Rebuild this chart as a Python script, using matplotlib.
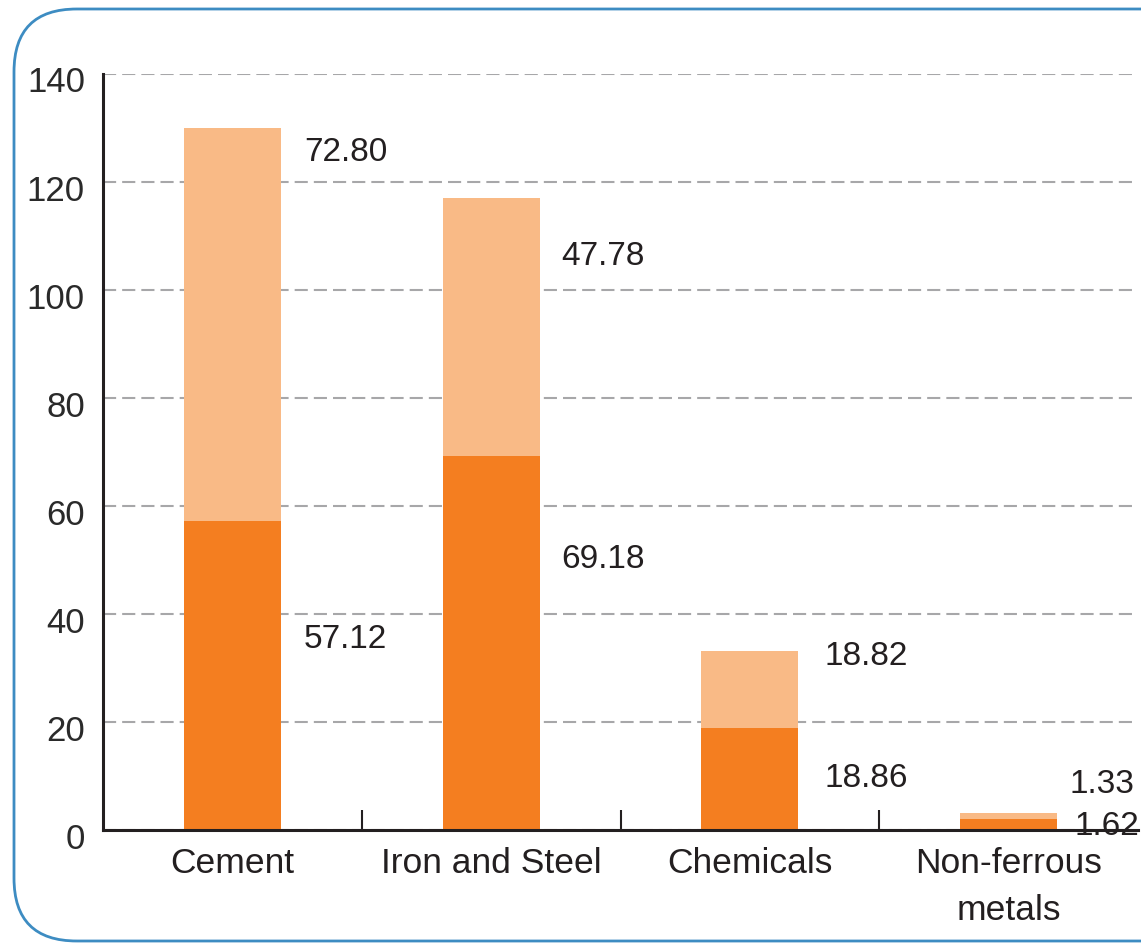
import matplotlib
matplotlib.use("Agg")
import matplotlib.pyplot as plt
from matplotlib.patches import FancyBboxPatch
from matplotlib.transforms import ScaledTranslation

# ---- data ----
categories = ["Cement", "Iron and Steel", "Chemicals", "Non-ferrous\nmetals"]
bottom_vals = [57.12, 69.18, 18.86, 2.0]     # dark orange segment (as drawn)
top_vals = [72.80, 47.78, 14.2, 1.2]         # light orange segment (as drawn)
bottom_labels = ["57.12", "69.18", "18.86", "1.62"]
top_labels = ["72.80", "47.78", "18.82", "1.33"]
yticks = [0, 20, 40, 60, 80, 100, 120, 140]

# ---- label layout (annotation positions) ----
bottom_label_y = [35.2, 50.0, 9.6, 0.6]
top_label_y = [125.4, 106.2, 32.2, 8.5]
bottom_label_dx = [0.277, 0.27, 0.29, 0.255]
top_label_dx = [0.277, 0.27, 0.29, 0.235]

DARK = "#F47E20"
LIGHT = "#F9BA86"
TXT = "#231F20"

plt.rcParams["font.family"] = ["Liberation Sans", "DejaVu Sans"]

fig = plt.figure(figsize=(11.41, 9.43), dpi=100)

# rounded border
border = FancyBboxPatch((14 / 1141, 2 / 943), 1.2, (943 - 11) / 943,
                        boxstyle="round,pad=0,rounding_size=0.055",
                        transform=fig.transFigure, fill=False,
                        edgecolor="#3d8cc2", linewidth=2.0, zorder=0,
                        mutation_aspect=1141 / 943)
fig.patches.append(border)

ax = fig.add_axes([103 / 1141, 113 / 943, (1138 - 103) / 1141, (869.5 - 113) / 943])

x = list(range(len(categories)))
width = 0.375
ax.bar(x, bottom_vals, width, color=DARK, zorder=3)
ax.bar(x, top_vals, width, bottom=bottom_vals, color=LIGHT, zorder=3)

ax.set_xlim(-0.5, len(categories) - 0.5)
ax.set_ylim(0, 140)

for i in range(len(categories)):
    ax.text(x[i] + bottom_label_dx[i], bottom_label_y[i], bottom_labels[i],
            fontsize=24, color=TXT, va="center", ha="left", zorder=5, clip_on=False)
    ax.text(x[i] + top_label_dx[i], top_label_y[i], top_labels[i],
            fontsize=24, color=TXT, va="center", ha="left", zorder=5, clip_on=False)

# grid
ax.set_yticks(yticks)
ax.yaxis.grid(True, color="#A7A7A9", linewidth=1.5, linestyle=(0, (6.3, 2.9)), zorder=1)
ax.set_axisbelow(True)

# spines
for s in ["top", "right"]:
    ax.spines[s].set_visible(False)
for s in ["left", "bottom"]:
    ax.spines[s].set_linewidth(2.2)
    ax.spines[s].set_color(TXT)
ax.spines["bottom"].set_zorder(4)

# y ticks
ax.tick_params(axis="y", length=0, pad=13, labelsize=25, labelcolor="#2a2a2a")
for lab in ax.get_yticklabels():
    lab.set_transform(lab.get_transform() + ScaledTranslation(0, -6 / 100, fig.dpi_scale_trans))

# x ticks
ax.set_xticks(x)
ax.set_xticklabels(categories, fontsize=25.5, color=TXT, linespacing=1.55)
ax.tick_params(axis="x", which="major", length=0, pad=12)
ax.set_xticks([i + 0.5 for i in x[:-1]], minor=True)
ax.tick_params(axis="x", which="minor", direction="in", length=14.4, width=1.5, color=TXT)

fig.savefig("out.png", dpi=100)
